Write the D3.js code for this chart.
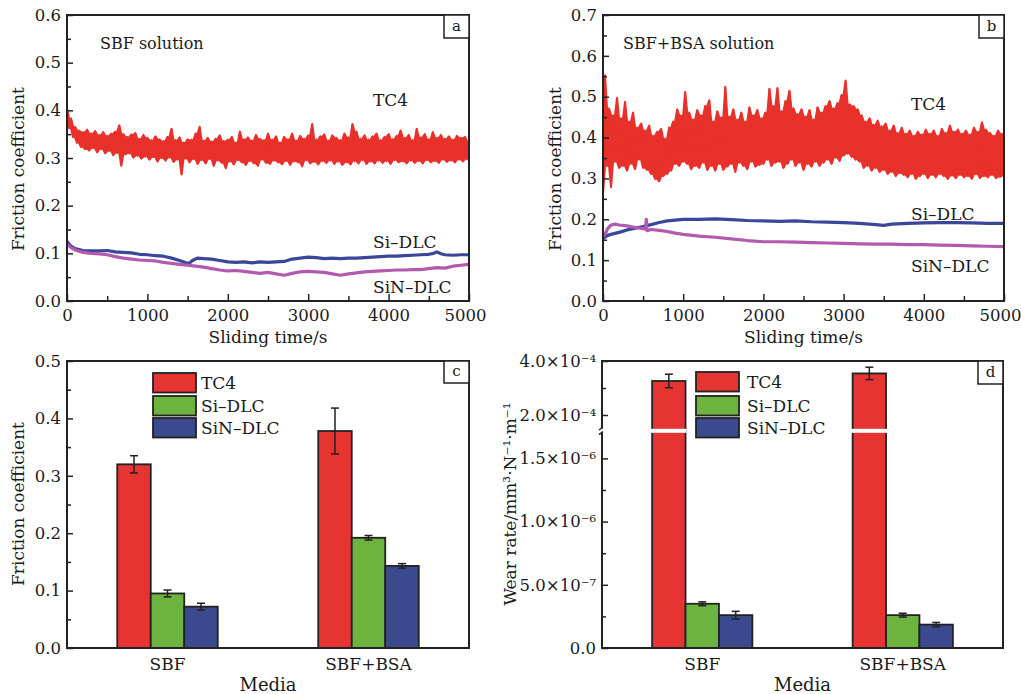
<!DOCTYPE html>
<html>
<head>
<meta charset="utf-8">
<script src="https://cdn.jsdelivr.net/npm/d3@7"></script>
<style>
  body { margin: 0; background: #fff; }
  text { font-family: "DejaVu Serif", serif; fill: #1a1a1a; }
</style>
</head>
<body>
<svg id="fig" width="1021" height="694"></svg>
<script>
// ---- time series (friction coefficient vs sliding time) ----
const tc4Step = 25; // s between samples of the TC4 traces
const tc4SBF = [
  0.405, 0.362, 0.384, 0.343, 0.366, 0.331, 0.358, 0.322, 0.355, 0.318,
  0.36, 0.315, 0.352, 0.32, 0.357, 0.311, 0.349, 0.318, 0.355, 0.309,
  0.347, 0.314, 0.352, 0.305, 0.356, 0.31, 0.369, 0.283, 0.351, 0.307,
  0.345, 0.309, 0.35, 0.3, 0.353, 0.304, 0.341, 0.298, 0.349, 0.302,
  0.343, 0.296, 0.338, 0.301, 0.346, 0.292, 0.34, 0.299, 0.336, 0.294,
  0.345, 0.3, 0.362, 0.291, 0.338, 0.296, 0.344, 0.265, 0.333, 0.298,
  0.34, 0.29, 0.339, 0.297, 0.352, 0.287, 0.366, 0.295, 0.337, 0.288,
  0.343, 0.297, 0.335, 0.283, 0.341, 0.294, 0.348, 0.289, 0.336, 0.278,
  0.339, 0.292, 0.345, 0.286, 0.333, 0.295, 0.356, 0.29, 0.34, 0.285,
  0.344, 0.293, 0.337, 0.288, 0.349, 0.283, 0.341, 0.296, 0.338, 0.289,
  0.352, 0.287, 0.339, 0.294, 0.346, 0.29, 0.333, 0.286, 0.345, 0.293,
  0.34, 0.285, 0.352, 0.292, 0.337, 0.29, 0.347, 0.282, 0.341, 0.295,
  0.348, 0.288, 0.372, 0.291, 0.339, 0.286, 0.346, 0.293, 0.35, 0.289,
  0.337, 0.294, 0.348, 0.287, 0.343, 0.292, 0.338, 0.285, 0.352, 0.29,
  0.344, 0.286, 0.372, 0.293, 0.356, 0.288, 0.341, 0.295, 0.348, 0.287,
  0.339, 0.292, 0.346, 0.288, 0.352, 0.294, 0.338, 0.289, 0.345, 0.293,
  0.351, 0.287, 0.34, 0.295, 0.347, 0.29, 0.358, 0.292, 0.343, 0.288,
  0.349, 0.294, 0.338, 0.289, 0.362, 0.293, 0.344, 0.288, 0.351, 0.295,
  0.34, 0.29, 0.355, 0.293, 0.343, 0.289, 0.349, 0.296, 0.341, 0.291,
  0.346, 0.294, 0.339, 0.29, 0.347, 0.296, 0.343, 0.292, 0.345, 0.297,
  0.336
];
const tc4BSA = [
  0.262, 0.553, 0.33, 0.472, 0.278, 0.455, 0.34, 0.498, 0.325, 0.448,
  0.33, 0.488, 0.318, 0.44, 0.335, 0.462, 0.322, 0.425, 0.345, 0.435,
  0.325, 0.418, 0.32, 0.43, 0.31, 0.405, 0.298, 0.415, 0.292, 0.422,
  0.305, 0.398, 0.31, 0.425, 0.318, 0.44, 0.335, 0.47, 0.33, 0.455,
  0.34, 0.512, 0.335, 0.462, 0.322, 0.445, 0.33, 0.468, 0.325, 0.455,
  0.338, 0.478, 0.32, 0.492, 0.33, 0.44, 0.318, 0.465, 0.335, 0.45,
  0.32, 0.525, 0.328, 0.452, 0.335, 0.47, 0.315, 0.445, 0.338, 0.462,
  0.33, 0.44, 0.322, 0.475, 0.34, 0.455, 0.328, 0.468, 0.332, 0.448,
  0.335, 0.462, 0.345, 0.52, 0.33, 0.478, 0.338, 0.522, 0.34, 0.465,
  0.325, 0.49, 0.335, 0.515, 0.345, 0.472, 0.33, 0.458, 0.338, 0.47,
  0.32, 0.452, 0.335, 0.468, 0.328, 0.445, 0.34, 0.475, 0.33, 0.462,
  0.338, 0.478, 0.345, 0.49, 0.335, 0.472, 0.35, 0.485, 0.342, 0.505,
  0.355, 0.54, 0.36, 0.482, 0.352, 0.478, 0.345, 0.47, 0.34, 0.455,
  0.325, 0.44, 0.33, 0.448, 0.318, 0.432, 0.325, 0.442, 0.315, 0.428,
  0.32, 0.435, 0.31, 0.418, 0.315, 0.43, 0.305, 0.412, 0.312, 0.425,
  0.308, 0.41, 0.302, 0.418, 0.31, 0.405, 0.298, 0.415, 0.305, 0.408,
  0.31, 0.42, 0.3, 0.41, 0.308, 0.418, 0.302, 0.405, 0.31, 0.422,
  0.305, 0.412, 0.298, 0.43, 0.306, 0.415, 0.3, 0.42, 0.308, 0.41,
  0.302, 0.418, 0.305, 0.408, 0.298, 0.425, 0.31, 0.415, 0.3, 0.438,
  0.305, 0.42, 0.302, 0.412, 0.308, 0.405, 0.3, 0.418, 0.303, 0.41,
  0.305
];

const siTimeSBF = [0, 50, 100, 200, 300, 400, 500, 600, 700, 800, 900, 1000, 1100, 1200, 1300, 1400, 1480, 1520, 1560, 1620,
  1700, 1800, 1900, 2000, 2100, 2200, 2300, 2400, 2500, 2600, 2700, 2800, 2900, 3000, 3100, 3200, 3300, 3400, 3500, 3600,
  3700, 3800, 3900, 4000, 4100, 4200, 4300, 4400, 4500, 4560, 4600, 4650, 4700, 4800, 4900, 5000];
const siValSBF = [0.125, 0.115, 0.11, 0.106, 0.105, 0.105, 0.106, 0.103, 0.102, 0.101, 0.098, 0.097, 0.095, 0.094, 0.09, 0.085, 0.08, 0.079, 0.085, 0.09,
  0.089, 0.088, 0.085, 0.082, 0.081, 0.082, 0.08, 0.082, 0.081, 0.082, 0.083, 0.088, 0.09, 0.092, 0.091, 0.089, 0.09, 0.089, 0.09, 0.09,
  0.091, 0.092, 0.093, 0.094, 0.094, 0.095, 0.096, 0.097, 0.098, 0.1, 0.103, 0.099, 0.097, 0.096, 0.097, 0.097];

const sinTimeSBF = [0, 50, 100, 200, 300, 400, 500, 600, 700, 800, 900, 1000, 1100, 1200, 1300, 1400, 1500, 1600, 1700, 1800,
  1900, 2000, 2100, 2200, 2300, 2400, 2500, 2600, 2700, 2800, 2900, 3000, 3100, 3200, 3300, 3400, 3500, 3600, 3700, 3800,
  3900, 4000, 4100, 4200, 4300, 4400, 4500, 4600, 4700, 4800, 4900, 5000];
const sinValSBF = [0.12, 0.112, 0.107, 0.102, 0.1, 0.099, 0.097, 0.093, 0.09, 0.088, 0.086, 0.085, 0.084, 0.081, 0.079, 0.077, 0.075, 0.073, 0.071, 0.068,
  0.065, 0.063, 0.064, 0.062, 0.06, 0.058, 0.06, 0.057, 0.054, 0.058, 0.061, 0.062, 0.061, 0.06, 0.057, 0.054, 0.057, 0.059, 0.061, 0.062,
  0.063, 0.064, 0.065, 0.065, 0.066, 0.066, 0.068, 0.07, 0.069, 0.073, 0.075, 0.077];

const siTimeBSA = [0, 50, 100, 200, 300, 400, 500, 600, 700, 800, 900, 1000, 1200, 1400, 1600, 1800, 2000, 2200, 2400, 2600,
  2800, 3000, 3200, 3400, 3500, 3600, 3800, 4000, 4200, 4400, 4600, 4800, 5000];
const siValBSA = [0.153, 0.16, 0.163, 0.168, 0.174, 0.178, 0.182, 0.187, 0.192, 0.196, 0.198, 0.2, 0.2, 0.201, 0.199, 0.197, 0.196, 0.195, 0.196, 0.194,
  0.193, 0.192, 0.19, 0.187, 0.185, 0.188, 0.19, 0.191, 0.192, 0.192, 0.191, 0.19, 0.19];

const sinTimeBSA = [0, 30, 60, 100, 150, 200, 300, 400, 500, 530, 540, 550, 600, 700, 800, 900, 1000, 1200, 1400, 1600,
  1800, 2000, 2200, 2400, 2600, 2800, 3000, 3200, 3400, 3600, 3800, 4000, 4200, 4400, 4600, 4800, 5000];
const sinValBSA = [0.158, 0.165, 0.178, 0.186, 0.188, 0.186, 0.184, 0.18, 0.177, 0.176, 0.2, 0.172, 0.175, 0.173, 0.17, 0.166, 0.163, 0.159, 0.156, 0.152,
  0.148, 0.145, 0.145, 0.144, 0.143, 0.142, 0.141, 0.14, 0.139, 0.139, 0.138, 0.138, 0.137, 0.136, 0.135, 0.134, 0.133];

// ---- bar data ----
const media = ["SBF", "SBF+BSA"];
const coatings = ["TC4", "Si\u2013DLC", "SiN\u2013DLC"];
const frictionMean = [[0.32, 0.095, 0.072], [0.378, 0.192, 0.143]];
const frictionErr = [[0.015, 0.006, 0.006], [0.04, 0.004, 0.004]];
const wearMean = [[3.26e-4, 3.5e-7, 2.6e-7], [3.54e-4, 2.6e-7, 1.85e-7]];
const wearErr = [[0.25e-4, 0.15e-7, 0.3e-7], [0.23e-4, 0.15e-7, 0.17e-7]];

// ---- ticks ----
const timeMajor = [0, 1000, 2000, 3000, 4000, 5000];
const timeMinor = [500, 1500, 2500, 3500, 4500];
const fricMajorA = [0, 0.1, 0.2, 0.3, 0.4, 0.5, 0.6];
const fricMinorA = [0.05, 0.15, 0.25, 0.35, 0.45, 0.55];
const fricMajorB = [0, 0.1, 0.2, 0.3, 0.4, 0.5, 0.6, 0.7];
const fricMinorB = [0.05, 0.15, 0.25, 0.35, 0.45, 0.55, 0.65];
const fricMajorC = [0, 0.1, 0.2, 0.3, 0.4, 0.5];
const fricMinorC = [0.05, 0.15, 0.25, 0.35, 0.45];
const wearLowMajor = [0, 5e-7, 1e-6, 1.5e-6];
const wearLowLabels = ["0.0", "5.0\u00d710\u207b\u2077", "1.0\u00d710\u207b\u2076", "1.5\u00d710\u207b\u2076"];
const wearLowMinor = [2.5e-7, 7.5e-7, 1.25e-6];
const wearHighMajor = [2e-4, 4e-4];
const wearHighLabels = ["2.0\u00d710\u207b\u2074", "4.0\u00d710\u207b\u2074"];
const wearHighMinor = [3e-4];

const colRed = "#e8312b", colBlueLine = "#3a4699", colPurple = "#b25aad";
const barColors = ["#e53431", "#6db33f", "#3b4a8e"];
const ink = "#222";

const svg = d3.select("#fig");

function panel(x, y) { return svg.append("g").attr("transform", `translate(${x},${y})`); }

function styleAxis(s) {
  s.select(".domain").remove();
  s.attr("font-family", null).attr("font-size", 16.5).attr("color", ink);
  s.selectAll(".tick line").attr("stroke-width", 1.5);
}

function leftTicks(g, y, majors, minors, fmt) {
  g.append("g").call(d3.axisLeft(y).tickValues(majors).tickSizeInner(-6).tickSizeOuter(0).tickPadding(6).tickFormat(fmt)).call(styleAxis);
  g.append("g").call(d3.axisLeft(y).tickValues(minors).tickSizeInner(-4).tickSizeOuter(0).tickFormat("")).call(styleAxis);
}

function frame(g, w, h) {
  g.append("rect").attr("width", w).attr("height", h).attr("fill", "none").attr("stroke", ink).attr("stroke-width", 2);
}

function letterBox(g, w, h, letter) {
  g.append("rect").attr("x", w - 25).attr("y", 0).attr("width", 25).attr("height", h)
    .attr("fill", "#fff").attr("stroke", ink).attr("stroke-width", 1.5);
  g.append("text").attr("x", w - 12.5).attr("y", h - 7).attr("text-anchor", "middle").attr("font-size", 15).text(letter);
}

function yTitle(x, y, txt) {
  svg.append("text").attr("transform", `translate(${x},${y}) rotate(-90)`).attr("text-anchor", "middle")
    .attr("font-size", 17).text(txt);
}

// ---- time panels ----
function timePanel(px, py, w, h, ymax, majors, minors, tc4, siT, siV, sinT, sinV, id) {
  const g = panel(px, py);
  const x = d3.scaleLinear().domain([0, 5000]).range([0, w]);
  const y = d3.scaleLinear().domain([0, ymax]).range([h, 0]);
  g.append("clipPath").attr("id", id).append("rect").attr("width", w).attr("height", h);
  const line = d3.line().x(d => x(d[0])).y(d => y(d[1]));
  const plot = g.append("g").attr("clip-path", `url(#${id})`);
  plot.append("path").datum(siT.map((t, i) => [t, siV[i]])).attr("d", line)
    .attr("fill", "none").attr("stroke", colBlueLine).attr("stroke-width", 3.2).attr("stroke-linejoin", "round");
  plot.append("path").datum(sinT.map((t, i) => [t, sinV[i]])).attr("d", line)
    .attr("fill", "none").attr("stroke", colPurple).attr("stroke-width", 3.2).attr("stroke-linejoin", "round");
  // the dense TC4 trace: fill between neighbouring samples so the noise reads as a solid band
  const pairs = tc4.slice(1).map((v, i) => ({ t: (i + 0.5) * tc4Step, lo: Math.min(v, tc4[i]), hi: Math.max(v, tc4[i]) }));
  plot.append("path").datum(pairs)
    .attr("d", d3.area().x(d => x(d.t)).y0(d => y(d.lo)).y1(d => y(d.hi)))
    .attr("fill", colRed);
  plot.append("path").datum(tc4.map((v, i) => [i * tc4Step, v])).attr("d", line)
    .attr("fill", "none").attr("stroke", colRed).attr("stroke-width", 1.6).attr("stroke-linejoin", "round");

  const xAx = g.append("g").attr("transform", `translate(0,${h})`)
    .call(d3.axisBottom(x).tickValues(timeMajor).tickSizeInner(-7).tickSizeOuter(0).tickPadding(8).tickFormat(d3.format("d")))
    .call(styleAxis);
  xAx.selectAll(".tick text").filter(d => d === 5000).attr("dx", -4);
  g.append("g").attr("transform", `translate(0,${h})`)
    .call(d3.axisBottom(x).tickValues(timeMinor).tickSizeInner(-5).tickSizeOuter(0).tickFormat(""))
    .call(styleAxis);
  leftTicks(g, y, majors, minors, d3.format(".1f"));
  frame(g, w, h);
  g.append("text").attr("x", w / 2).attr("y", h + 42).attr("text-anchor", "middle").attr("font-size", 17).text("Sliding time/s");
  return g;
}

const pa = timePanel(67, 15, 402, 286, 0.6, fricMajorA, fricMinorA, tc4SBF, siTimeSBF, siValSBF, sinTimeSBF, sinValSBF, "clipA");
pa.append("text").attr("x", 33).attr("y", 34).attr("font-size", 16).text("SBF solution");
pa.append("text").attr("x", 306).attr("y", 91).attr("font-size", 17).text("TC4");
pa.append("text").attr("x", 306).attr("y", 233).attr("font-size", 17).text(coatings[1]);
pa.append("text").attr("x", 306).attr("y", 278).attr("font-size", 17).text(coatings[2]);
letterBox(pa, 402, 23, "a");
yTitle(24, 169, "Friction coefficient");

const pb = timePanel(603, 15, 401, 286, 0.7, fricMajorB, fricMinorB, tc4BSA, siTimeBSA, siValBSA, sinTimeBSA, sinValBSA, "clipB");
pb.append("text").attr("x", 20).attr("y", 34).attr("font-size", 16).text("SBF+BSA solution");
pb.append("text").attr("x", 308).attr("y", 95).attr("font-size", 17).text("TC4");
pb.append("text").attr("x", 308).attr("y", 205).attr("font-size", 17).text(coatings[1]);
pb.append("text").attr("x", 308).attr("y", 257).attr("font-size", 17).text(coatings[2]);
letterBox(pb, 401, 23, "b");
yTitle(561, 169, "Friction coefficient");

// ---- bar panels ----
function barRows(means, errs) {
  const rows = [];
  media.forEach((m, i) => coatings.forEach((c, j) => rows.push({ m, c, j, v: means[i][j], e: errs[i][j] })));
  return rows;
}

function drawBars(g, w, h, rows, yFn) {
  const x0 = d3.scaleBand().domain(media).range([0, w]).paddingInner(0.5).paddingOuter(0.25);
  const x1 = d3.scaleBand().domain(coatings).range([0, x0.bandwidth()]);
  const bars = g.append("g").selectAll("g").data(rows).join("g")
    .attr("transform", d => `translate(${x0(d.m) + x1(d.c)},0)`);
  bars.append("rect").attr("y", d => yFn(d.v)).attr("width", x1.bandwidth()).attr("height", d => h - yFn(d.v))
    .attr("fill", d => barColors[d.j]).attr("stroke", ink).attr("stroke-width", 1.8);
  const cx = x1.bandwidth() / 2;
  bars.append("line").attr("x1", cx).attr("x2", cx).attr("y1", d => yFn(d.v - d.e)).attr("y2", d => yFn(d.v + d.e))
    .attr("stroke", ink).attr("stroke-width", 1.5);
  [-1, 1].forEach(s => bars.append("line").attr("x1", cx - 4).attr("x2", cx + 4)
    .attr("y1", d => yFn(d.v + s * d.e)).attr("y2", d => yFn(d.v + s * d.e)).attr("stroke", ink).attr("stroke-width", 1.5));
  g.append("g").selectAll("text").data(media).join("text")
    .attr("x", d => x0(d) + x0.bandwidth() / 2).attr("y", h + 22).attr("text-anchor", "middle").attr("font-size", 17).text(d => d);
  g.append("text").attr("x", w / 2).attr("y", h + 43).attr("text-anchor", "middle").attr("font-size", 18).text("Media");
  return { x0, x1 };
}

function legend(g, lx, tx, rowsY) {
  coatings.forEach((c, j) => {
    g.append("rect").attr("x", lx).attr("y", rowsY[j]).attr("width", 43).attr("height", 19.5)
      .attr("fill", barColors[j]).attr("stroke", ink).attr("stroke-width", 1.8);
    g.append("text").attr("x", tx).attr("y", rowsY[j] + 16).attr("font-size", 17).text(c);
  });
}

// panel c
const pc = panel(67, 361);
const wc = 402, hc = 287;
const yc = d3.scaleLinear().domain([0, 0.5]).range([hc, 0]);
drawBars(pc, wc, hc, barRows(frictionMean, frictionErr), yc);
leftTicks(pc, yc, fricMajorC, fricMinorC, d3.format(".1f"));
frame(pc, wc, hc);
legend(pc, 86, 134, [12, 35, 57]);
letterBox(pc, wc, 22, "c");
yTitle(24, 504, "Friction coefficient");

// panel d (broken y axis)
const pd = panel(602, 361);
const wd = 401, hd = 287;
const breakLow = 1.7e-6, breakHigh = 1.5e-4;
const ydLow = d3.scaleLinear().domain([0, breakLow]).range([hd, 72.1]);
const ydHigh = d3.scaleLinear().domain([breakHigh, 4e-4]).range([67.5, 0]);
const yd = v => (v <= breakLow ? ydLow(v) : ydHigh(v));
const dScales = drawBars(pd, wd, hd, barRows(wearMean, wearErr), yd);
// white gap through the tall bars
pd.append("g").selectAll("rect").data(media).join("rect")
  .attr("x", d => dScales.x0(d) - 2).attr("y", ydHigh(breakHigh) + 0.3)
  .attr("width", dScales.x1.bandwidth() + 3).attr("height", ydLow(breakLow) - ydHigh(breakHigh) - 0.6)
  .attr("fill", "#fff");
// frame with broken left side
pd.append("path").attr("d", `M0,${ydHigh(breakHigh)}V0H${wd}V${hd}H0V${ydLow(breakLow)}`)
  .attr("fill", "none").attr("stroke", ink).attr("stroke-width", 2);
pd.append("path").attr("d", `M-3,${ydHigh(breakHigh) + 1.5}l4,-3M-3,${ydLow(breakLow) + 1.5}l4,-3`)
  .attr("stroke", ink).attr("stroke-width", 1.5).attr("fill", "none");
[[ydLow, wearLowMajor, wearLowMinor, wearLowLabels], [ydHigh, wearHighMajor, wearHighMinor, wearHighLabels]].forEach(([sc, maj, min, labs]) => {
  leftTicks(pd, sc, maj, min, (d, i) => labs[i]);
});
legend(pd, 94, 145, [11, 35, 57]);
letterBox(pd, wd, 23, "d");
yTitle(516, 504, "Wear rate/mm\u00b3\u00b7N\u207b\u00b9\u00b7m\u207b\u00b9");
</script>
</body>
</html>
